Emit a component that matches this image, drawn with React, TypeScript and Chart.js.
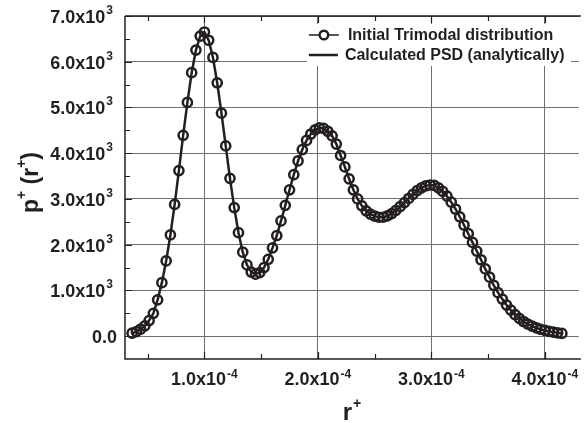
import React, { useEffect, useRef } from 'react';
import { Chart, registerables } from 'chart.js';

Chart.register(...registerables);

// r+ values in units of 1e-4
const rValues: number[] = [
  0.3625, 0.4, 0.4375, 0.475, 0.5125, 0.55, 0.5875, 0.625, 0.6625, 0.7,
  0.7375, 0.775, 0.8125, 0.85, 0.8875, 0.925, 0.9625, 1.0, 1.0375, 1.075,
  1.1125, 1.15, 1.1875, 1.225, 1.2625, 1.3, 1.3375, 1.375, 1.4125, 1.45,
  1.4875, 1.525, 1.5625, 1.6, 1.6375, 1.675, 1.7125, 1.75, 1.7875, 1.825,
  1.8625, 1.9, 1.9375, 1.975, 2.0125, 2.05, 2.0875, 2.125, 2.1625, 2.2,
  2.2375, 2.275, 2.3125, 2.35, 2.3875, 2.425, 2.4625, 2.5, 2.5375, 2.575,
  2.6125, 2.65, 2.6875, 2.725, 2.7625, 2.8, 2.8375, 2.875, 2.9125, 2.95,
  2.9875, 3.025, 3.0625, 3.1, 3.1375, 3.175, 3.2125, 3.25, 3.2875, 3.325,
  3.3625, 3.4, 3.4375, 3.475, 3.5125, 3.55, 3.5875, 3.625, 3.6625, 3.7,
  3.7375, 3.775, 3.8125, 3.85, 3.8875, 3.925, 3.9625, 4.0, 4.0375, 4.075,
  4.1125, 4.15,
];

const initialTrimodal: number[] = [
  65, 100, 153, 225, 340, 500, 793, 1170, 1644, 2212,
  2880, 3620, 4390, 5110, 5760, 6255, 6560, 6650, 6470, 6095,
  5540, 4875, 4160, 3450, 2810, 2262, 1836, 1557, 1400, 1355,
  1390, 1500, 1680, 1930, 2200, 2520, 2860, 3200, 3530, 3830,
  4080, 4280, 4420, 4510, 4555, 4545, 4480, 4380, 4200, 3950,
  3700, 3440, 3200, 3000, 2850, 2740, 2670, 2625, 2600, 2600,
  2630, 2680, 2750, 2830, 2920, 3010, 3100, 3180, 3240, 3285,
  3305, 3295, 3240, 3165, 3060, 2930, 2780, 2610, 2430, 2240,
  2050, 1860, 1670, 1470, 1290, 1110, 950, 810, 680, 570,
  470, 390, 320, 265, 220, 180, 150, 125, 105, 88,
  72, 60,
];

const calculatedPSD: number[] = [...initialTrimodal];

const seriesNames = ['Initial Trimodal distribution', 'Calculated PSD (analytically)'];
const xTickValues = [1, 2, 3, 4];
const xMinorTickValues = [0.5, 1.5, 2.5, 3.5];
const yTickValues = [0, 1000, 2000, 3000, 4000, 5000, 6000, 7000];
const yMinorTickValues = [500, 1500, 2500, 3500, 4500, 5500, 6500];

const INK = '#231f20';
const FAMILY = '"Liberation Sans", Arial, Helvetica, sans-serif';

function drawSup(
  ctx: CanvasRenderingContext2D,
  base: string,
  sup: string,
  x: number,
  y: number,
  align: 'right' | 'center' | 'left',
  baseSize: number,
  supSize: number,
  rise: number,
) {
  ctx.font = `bold ${baseSize}px ${FAMILY}`;
  const wb = ctx.measureText(base).width;
  ctx.font = `bold ${supSize}px ${FAMILY}`;
  const ws = ctx.measureText(sup).width;
  const total = wb + ws + 1;
  let sx = x;
  if (align === 'right') sx = x - total;
  else if (align === 'center') sx = x - total / 2;
  ctx.textAlign = 'left';
  ctx.textBaseline = 'alphabetic';
  ctx.font = `bold ${baseSize}px ${FAMILY}`;
  ctx.fillText(base, sx, y);
  ctx.font = `bold ${supSize}px ${FAMILY}`;
  ctx.fillText(sup, sx + wb + 1, y - rise);
}

const overlayPlugin = {
  id: 'overlay',
  afterDraw(chart: any) {
    const ctx: CanvasRenderingContext2D = chart.ctx;
    const { left, right, top, bottom } = chart.chartArea;
    const xs = chart.scales.x;
    const ys = chart.scales.y;
    ctx.save();

    // legend background
    ctx.fillStyle = '#ffffff';
    ctx.fillRect(right - 272, top + 8, 264, 42);

    // frame
    ctx.strokeStyle = INK;
    ctx.lineWidth = 1.5;
    ctx.beginPath();
    ctx.moveTo(left, top);
    ctx.lineTo(right + 2, top);
    ctx.moveTo(left, top);
    ctx.lineTo(left, bottom);
    ctx.lineTo(right + 2, bottom);
    ctx.stroke();

    // inward ticks
    ctx.lineWidth = 1.2;
    ctx.beginPath();
    [...xTickValues, ...xMinorTickValues].forEach((v) => {
      const px = Math.round(xs.getPixelForValue(v)) + 0.5;
      const len = xTickValues.includes(v) ? 7 : 5;
      ctx.moveTo(px, bottom);
      ctx.lineTo(px, bottom - len);
      ctx.moveTo(px, top);
      ctx.lineTo(px, top + len);
    });
    [...yTickValues, ...yMinorTickValues].forEach((v) => {
      const py = Math.round(ys.getPixelForValue(v)) + 0.5;
      const len = yTickValues.includes(v) ? 7 : 5;
      ctx.moveTo(left, py);
      ctx.lineTo(left + len, py);
    });
    ctx.stroke();

    ctx.fillStyle = INK;

    // y tick labels
    yTickValues.forEach((v) => {
      const py = ys.getPixelForValue(v);
      if (v === 0) {
        ctx.font = `bold 18px ${FAMILY}`;
        ctx.textAlign = 'right';
        ctx.textBaseline = 'alphabetic';
        ctx.fillText('0.0', left - 8, py + 6.5);
      } else {
        drawSup(ctx, `${(v / 1000).toFixed(1)}x10`, '3', left - 12, py + 7, 'right', 18, 12, 9);
      }
    });

    // x tick labels
    xTickValues.forEach((v) => {
      const px = xs.getPixelForValue(v);
      drawSup(ctx, `${v.toFixed(1)}x10`, '-4', px, bottom + 26, 'center', 18, 12, 7);
    });

    // x title
    drawSup(ctx, 'r', '+', (left + right) / 2, bottom + 61, 'center', 24, 14, 12);

    // y title (rotated)
    ctx.save();
    ctx.translate(38, (top + bottom) / 2 - 5);
    ctx.rotate(-Math.PI / 2);
    ctx.font = `bold 23px ${FAMILY}`;
    const partA = 'p';
    const partB = ' (r';
    const partC = ')';
    const wA = ctx.measureText(partA).width;
    const wB = ctx.measureText(partB).width;
    const wC = ctx.measureText(partC).width;
    ctx.font = `bold 14px ${FAMILY}`;
    const wS = ctx.measureText('+').width;
    const total = wA + wS + wB + wS + wC;
    let cx = -total / 2;
    ctx.textAlign = 'left';
    ctx.textBaseline = 'alphabetic';
    ctx.font = `bold 23px ${FAMILY}`;
    ctx.fillText(partA, cx, 0);
    cx += wA;
    ctx.font = `bold 14px ${FAMILY}`;
    ctx.fillText('+', cx, -12);
    cx += wS;
    ctx.font = `bold 23px ${FAMILY}`;
    ctx.fillText(partB, cx, 0);
    cx += wB;
    ctx.font = `bold 14px ${FAMILY}`;
    ctx.fillText('+', cx, -12);
    cx += wS;
    ctx.font = `bold 23px ${FAMILY}`;
    ctx.fillText(partC, cx, 0);
    ctx.restore();

    // legend
    const lx0 = right - 270;
    const lx1 = right - 240;
    const ly1 = top + 19;
    const ly2 = top + 39;
    ctx.strokeStyle = INK;
    ctx.lineWidth = 1.5;
    ctx.beginPath();
    ctx.moveTo(lx0, ly1);
    ctx.lineTo(lx1, ly1);
    ctx.stroke();
    ctx.beginPath();
    ctx.arc((lx0 + lx1) / 2, ly1, 4.3, 0, Math.PI * 2);
    ctx.fillStyle = '#ffffff';
    ctx.fill();
    ctx.lineWidth = 2.4;
    ctx.stroke();
    ctx.lineWidth = 2.5;
    ctx.beginPath();
    ctx.moveTo(lx0, ly2);
    ctx.lineTo(lx1 - 1, ly2);
    ctx.stroke();

    ctx.fillStyle = INK;
    ctx.font = `bold 16px ${FAMILY}`;
    ctx.textAlign = 'left';
    ctx.textBaseline = 'alphabetic';
    ctx.fillText(seriesNames[0], right - 231, ly1 + 5);
    ctx.fillText(seriesNames[1], right - 234, ly2 + 5);

    ctx.restore();
  },
};

export default function App() {
  const canvasRef = useRef<HTMLCanvasElement | null>(null);

  useEffect(() => {
    document.body.style.margin = '0';
    const canvas = canvasRef.current;
    if (!canvas) return;

    const pointsData = rValues.map((r, i) => ({ x: r, y: initialTrimodal[i] }));
    const lineData = rValues.map((r, i) => ({ x: r, y: calculatedPSD[i] }));

    const chart = new Chart(canvas, {
      type: 'scatter',
      data: {
        datasets: [
          {
            label: seriesNames[1],
            data: lineData,
            showLine: true,
            borderColor: INK,
            borderWidth: 2.5,
            pointRadius: 0,
            tension: 0,
            order: 2,
          } as any,
          {
            label: seriesNames[0],
            data: pointsData,
            showLine: false,
            pointRadius: 4.6,
            pointBorderWidth: 2.5,
            pointBorderColor: INK,
            pointBackgroundColor: 'rgba(0,0,0,0)',
            order: 1,
          } as any,
        ],
      },
      options: {
        responsive: false,
        animation: false,
        devicePixelRatio: 1,
        layout: { padding: { left: 0, right: 0, top: 16, bottom: 0 } },
        plugins: {
          legend: { display: false },
          tooltip: { enabled: false },
        },
        scales: {
          x: {
            type: 'linear',
            min: 0.3,
            max: 4.3,
            afterBuildTicks: (s: any) => {
              s.ticks = xTickValues.map((v) => ({ value: v }));
            },
            afterFit: (s: any) => {
              s.height = 64;
            },
            ticks: { display: false },
            grid: { color: '#6f6f6f', lineWidth: 1, drawTicks: false },
            border: { display: false },
          },
          y: {
            type: 'linear',
            min: -500,
            max: 7000,
            afterBuildTicks: (s: any) => {
              s.ticks = yTickValues.map((v) => ({ value: v }));
            },
            afterFit: (s: any) => {
              s.width = 125;
            },
            ticks: { display: false },
            grid: { color: '#6f6f6f', lineWidth: 1, drawTicks: false },
            border: { display: false },
          },
        },
      } as any,
      plugins: [overlayPlugin],
    });

    return () => {
      chart.destroy();
    };
  }, []);

  return (
    <div style={{ width: 586, height: 423, background: '#ffffff' }}>
      <canvas ref={canvasRef} width={586} height={423} style={{ display: 'block' }} />
    </div>
  );
}
